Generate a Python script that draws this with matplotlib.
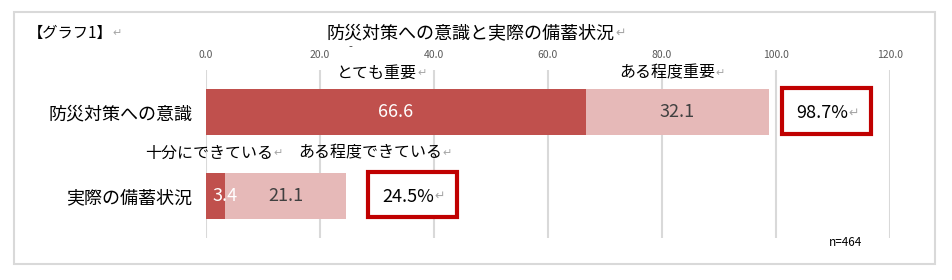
import matplotlib
matplotlib.use('Agg')
import matplotlib.pyplot as plt
from matplotlib.patches import Rectangle
from matplotlib.text import Annotation

plt.rcParams['font.family'] = ['Noto Sans CJK JP', 'DejaVu Sans']

# ---- data ----
chart_title = "防災対策への意識と実際の備蓄状況"
graph_label = "【グラフ1】"
categories = ["防災対策への意識", "実際の備蓄状況"]
series_top = ["とても重要", "ある程度重要"]
series_bottom = ["十分にできている", "ある程度できている"]
strong = [66.6, 3.4]
moderate = [32.1, 21.1]
xticks = [0, 20, 40, 60, 80, 100, 120]
n_label = "n=464"

DARK = '#C0504D'
LIGHT = '#E6B9B8'
RET_COLOR = '#A6A6A6'

W, H = 952, 280
fig = plt.figure(figsize=(W / 100, H / 100), dpi=100)


def fx(x):
    return x / W


def fy(y):
    return 1 - y / H


def add_ret(t, size, z=3):
    a = Annotation("↵", xy=(1.0, 0.5), xycoords=t, ha='left', va='center',
                   fontsize=size, color=RET_COLOR,
                   family=['DejaVu Sans'], zorder=z)
    fig.add_artist(a)


# outer frame
fig.add_artist(Rectangle((fx(14), fy(264)), (935 - 14) / W, (264 - 12) / H,
                         transform=fig.transFigure, fill=False,
                         edgecolor='#D9D9D9', lw=1.5))

ax = fig.add_axes([fx(206), fy(238), (890 - 206) / W, (238 - 70) / H])
ax.patch.set_alpha(0)
ypos = [1, 0]
ax.barh(ypos, strong, height=0.55, color=DARK, zorder=2)
ax.barh(ypos, moderate, left=strong, height=0.55, color=LIGHT, zorder=2)
ax.set_xlim(0, 120)
ax.set_ylim(-0.5, 1.5)
ax.set_xticks(xticks)
ax.set_xticklabels([f"{t:.1f}" for t in xticks], fontsize=7.5, color='#595959')
ax.xaxis.tick_top()
ax.tick_params(axis='x', length=0, pad=7)
ax.set_yticks(ypos)
ax.set_yticklabels(categories, fontsize=13, color='#000000')
ax.tick_params(axis='y', length=0, pad=10)
for s in ax.spines.values():
    s.set_visible(False)
ax.grid(axis='x', color='#D9D9D9', lw=1.5, zorder=0)
ax.set_axisbelow(True)

# bar labels
for y, s, m in zip(ypos, strong, moderate):
    if s < 10:
        ax.text(1.2, y, f"{s:.1f}", ha='left', va='center', color='white',
                fontsize=13, zorder=3)
    else:
        ax.text(s / 2, y, f"{s:.1f}", ha='center', va='center', color='white',
                fontsize=13, zorder=3)
    ax.text(s + m / 2, y, f"{m:.1f}", ha='center', va='center',
            color='#404040', fontsize=13, zorder=3)

# total boxes (layout positions in pixels)
boxes = [(782, 88, 871, 134), (368, 172, 457, 217)]
for (x0, y0, x1, y1), s, m in zip(boxes, strong, moderate):
    fig.add_artist(Rectangle((fx(x0), fy(y1)), (x1 - x0) / W, (y1 - y0) / H,
                             transform=fig.transFigure, facecolor='white',
                             edgecolor='#C00000', lw=3, zorder=5))
    t = fig.text(fx((x0 + x1) / 2 - 4), fy((y0 + y1) / 2 + 2),
                 f"{s + m:.1f}%", ha='center', va='center', fontsize=13,
                 color='#000000', zorder=6)
    add_ret(t, 9, z=7)

# titles
t = fig.text(fx(471), fy(33), chart_title, ha='center', va='center',
             fontsize=13, color='#000000')
add_ret(t, 9)
t = fig.text(fx(28), fy(33), graph_label, ha='left', va='center',
             fontsize=11, color='#000000')
add_ret(t, 8)
fig.text(fx(350), fy(47), "-", ha='center', va='center', fontsize=8,
         color='#404040')

# series labels
for name, (x, y) in zip(series_top, [(337, 73), (619, 73)]):
    t = fig.text(fx(x), fy(y), name, ha='left', va='center', fontsize=11.5,
                 color='#000000')
    add_ret(t, 8)
for name, (x, y) in zip(series_bottom, [(145, 153), (298, 153)]):
    t = fig.text(fx(x), fy(y), name, ha='left', va='center', fontsize=11.5,
                 color='#000000')
    add_ret(t, 8)

fig.text(fx(829), fy(242), n_label, ha='left', va='center', fontsize=8.5,
         color='#000000')

fig.savefig('out.png', dpi=100, facecolor='white')
